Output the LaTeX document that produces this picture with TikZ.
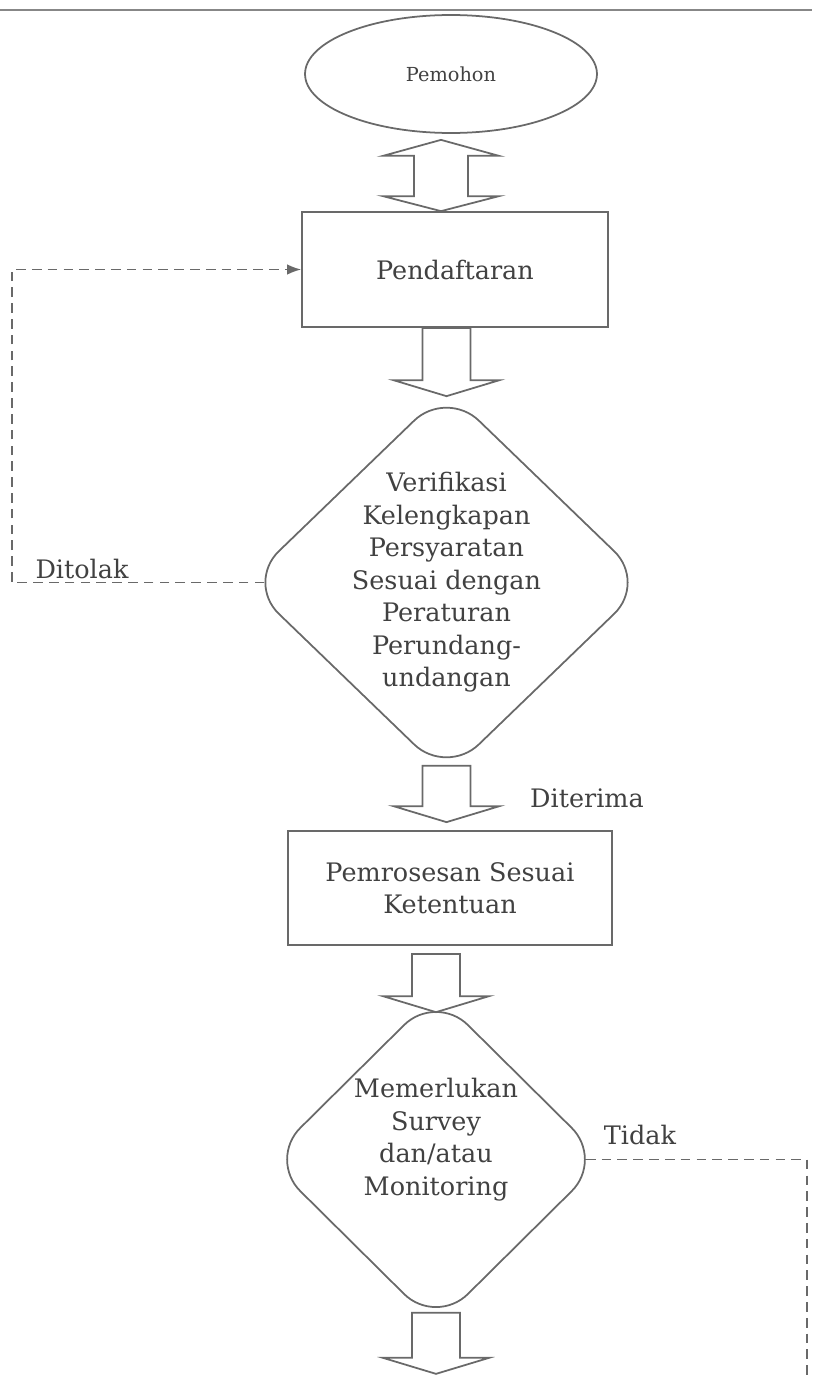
\documentclass[tikz,border=0pt]{standalone}
\usepackage{fontspec}
\setmainfont{DejaVu Serif}
\usetikzlibrary{shapes.geometric, calc, math, arrows.meta}
\definecolor{lineg}{RGB}{105,105,105}
\definecolor{textg}{RGB}{65,65,65}

\newcommand{\blockdown}[2]{%
\draw[blockarr] ($(#1)+(-\sw,0)$) -- ($(#2)+(-\sw,-\hl)$) -- ($(#2)+(-\hw,-\hl)$) -- (#2) -- ($(#2)+(\hw,-\hl)$) -- ($(#2)+(\sw,-\hl)$) -- ($(#1)+(\sw,0)$) -- cycle;}

\begin{document}
\begin{tikzpicture}[x=0.02cm, y=-0.02cm,
  txt/.style={font=\fontsize{14.5}{18.5}\selectfont, text=textg, align=center},
  lbl/.style={font=\fontsize{14.5}{18.5}\selectfont, text=textg, anchor=base},
  box/.style={draw=lineg, line width=1pt, minimum width=6.12cm, minimum height=2.3cm},
  decision/.style={diamond, draw=lineg, line width=1pt, rounded corners=0.9cm},
  blockarr/.style={draw=lineg, line width=1pt, fill=white, line join=miter},
  dashline/.style={draw=lineg, line width=0.9pt, dash pattern=on 5.5pt off 3.5pt}]
\tikzmath{
\sw=24;
\hw=53;
\hl=16;
\dsw=27;
\dhw=58;
}
\useasboundingbox (0,0) rectangle (812,1379);

\draw[lineg!80, line width=1.2pt] (0,10) -- (812,10);

\node[ellipse, draw=lineg, line width=1pt, minimum width=5.84cm, minimum height=2.36cm, txt, font=\fontsize{11}{13}\selectfont] (pemohon) at (451,74) {Pemohon};
\node[box, txt] (pend) at (455,269.5) {Pendaftaran};
\node[decision, minimum width=8.02cm, minimum height=7.74cm] (verif) at (446.5,582.5) {};
\node[txt] (veriftext) at (verif) {Verifikasi\\Kelengkapan\\Persyaratan\\Sesuai dengan\\Peraturan\\Perundang-\\undangan};
\node[box, txt, minimum width=6.48cm, minimum height=2.28cm] (pemro) at (450,888) {Pemrosesan Sesuai\\Ketentuan};
\node[decision, minimum width=6.72cm, minimum height=6.66cm] (memerl) at (436,1159.5) {};
\node[txt] (memerltext) at ($(memerl)+(0,-20)$) {Memerlukan\\Survey\\dan/atau\\Monitoring};

% two-way arrow
\coordinate (dtop) at ($(pemohon.south)+(-10,6)$);
\coordinate (dbot) at (dtop |- pend.north);
\draw[blockarr] (dtop) -- ++(\dhw,16) -- ++(\dsw-\dhw,0) -- ($(dbot)+(\dsw,-15)$) -- ++(\dhw-\dsw,0) -- (dbot) -- ++(-\dhw,-15) -- ++(\dhw-\dsw,0) -- ($(dtop)+(-\dsw,16)$) -- ++(\dsw-\dhw,0) -- cycle;

\coordinate (a2s) at (verif.north |- pend.south);
\coordinate (a2t) at ($(verif.north)+(0,8)$);
\blockdown{a2s}{a2t}
\coordinate (a3s) at ($(verif.south)+(0,-11)$);
\coordinate (a3t) at ($(a3s |- pemro.north)+(0,-8)$);
\blockdown{a3s}{a3t}
\coordinate (a4s) at ($(memerl.north |- pemro.south)+(0,8)$);
\coordinate (a4t) at ($(memerl.north)+(0,20)$);
\blockdown{a4s}{a4t}
\coordinate (a5s) at ($(memerl.south)+(0,-14)$);
\coordinate (a5t) at ($(memerl.south)+(0,47)$);
\blockdown{a5s}{a5t}

% rejected / not needed
\coordinate (lback) at (12,0);
\draw[dashline, -{Latex[length=8pt,width=6pt]}] ($(verif.west)+(19,0)$) -- (lback |- verif.west) -- (lback |- pend.west) -- (pend.west);
\coordinate (rback) at (807,1379);
\draw[dashline] ($(memerl.east)+(-19,0)$) -- (rback |- memerl.east) -- (rback);

\node[lbl] (ditolak) at (82,578) {Ditolak};
\node[lbl] (diterima) at (587,807) {Diterima};
\node[lbl] (tidak) at (640,1144) {Tidak};
\end{tikzpicture}
\end{document}
